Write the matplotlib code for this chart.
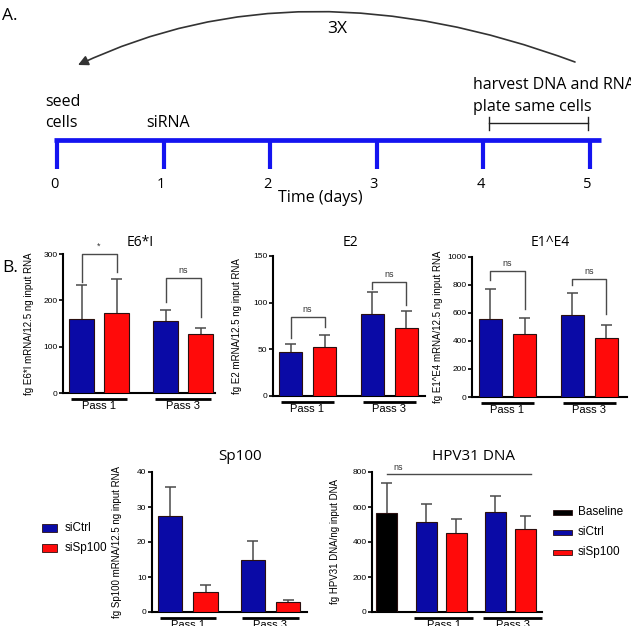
import matplotlib
matplotlib.use('Agg')
import matplotlib.pyplot as plt
from matplotlib.patches import Rectangle, FancyArrowPatch
from matplotlib.path import Path
from matplotlib.transforms import blended_transform_factory
import numpy as np

W, H = 631, 626

# ---------------- data ----------------
days = [0, 1, 2, 3, 4, 5]
groups = ['Pass 1', 'Pass 3']
series = ['siCtrl', 'siSp100']
hpv_series = ['Baseline', 'siCtrl', 'siSp100']

e6_ctrl = [160, 155]
e6_ctrl_err = [73, 24]
e6_si = [173, 127]
e6_si_err = [73, 13]
e6_brackets = [('*', 300, 240, 261), ('ns', 248, 196, 164)]

e2_ctrl = [47, 88]
e2_ctrl_err = [9, 23]
e2_si = [53, 73]
e2_si_err = [12, 18]
e2_brackets = [('ns', 85, 62, 74), ('ns', 122, 115, 98)]

e14_ctrl = [557, 586]
e14_ctrl_err = [214, 157]
e14_si = [450, 421]
e14_si_err = [114, 93]
e14_brackets = [('ns', 900, 836, 629), ('ns', 843, 800, 593)]

sp_ctrl = [27.3, 14.8]
sp_ctrl_err = [8.4, 5.6]
sp_si = [5.7, 3.0]
sp_si_err = [2.0, 0.4]

hpv_base = [566]
hpv_base_err = [171]
hpv_ctrl = [514, 571]
hpv_ctrl_err = [103, 92]
hpv_si = [451, 474]
hpv_si_err = [80, 75]
hpv_ns_level = 789

# ---------------- style ----------------
BLUE = '#0a0aa6'
RED = '#ff0a0a'
BLACK = '#000000'
EDGE = '#2a1010'
GREY = '#4a4a4a'
TL_BLUE = '#1414f0'
SANS = ['Liberation Sans', 'DejaVu Sans']
HUM = ['Open Sans', 'DejaVu Sans']
AFS = 11.5  # panel A text size

fig = plt.figure(figsize=(W / 100, H / 100), dpi=100)
fig.patch.set_facecolor('white')


def ftext(x, y, s, **kw):
    return fig.text(x / W, 1 - y / H, s, **kw)


def make_axes(box):
    x0, x1, yt, yb = box
    ax = fig.add_axes([x0 / W, 1 - yb / H, (x1 - x0) / W, (yb - yt) / H])
    ax.set_facecolor('none')
    for s in ['top', 'right']:
        ax.spines[s].set_visible(False)
    for s in ['left', 'bottom']:
        ax.spines[s].set_linewidth(1.5)
    ax.tick_params(axis='x', length=0, labelbottom=False)
    ax.tick_params(axis='y', length=3, width=1.2, direction='out', pad=1,
                   labelsize=6)
    return ax


def style_ticks(ax):
    for lab in ax.get_yticklabels():
        lab.set_fontfamily(SANS)


def draw_bars(ax, xs, vals, errs, color, width, unit):
    xs = np.asarray(xs, dtype=float)
    vals = np.asarray(vals, dtype=float)
    errs = np.asarray(errs, dtype=float)
    ax.bar(xs, vals, width=width, color=color, edgecolor=EDGE, linewidth=0.8,
           zorder=3)
    cap = 5.5 / unit
    ax.vlines(xs, vals, vals + errs, color=GREY, lw=1.1, zorder=2)
    ax.hlines(vals + errs, xs - cap, xs + cap, color=GREY, lw=1.1, zorder=2)


def group_lines(ax, box, spans, labels):
    x0, x1, yt, yb = box
    hpx = yb - yt
    tr = blended_transform_factory(ax.transData, ax.transAxes)
    for (a, b), lab in zip(spans, labels):
        ax.plot([a, b], [-6 / hpx, -6 / hpx], color='black', lw=2,
                transform=tr, clip_on=False, solid_capstyle='butt')
        ax.text((a + b) / 2, -8 / hpx, lab, transform=tr, ha='center',
                va='top', fontsize=8, family=SANS)


def draw_brackets(ax, xl_list, xr_list, brackets, fs=6.5):
    for xl, xr, (lab, top, lb, rb) in zip(xl_list, xr_list, brackets):
        ax.plot([xl, xl, xr, xr], [lb, top, top, rb], color=GREY, lw=1.0,
                clip_on=False, zorder=4)
        ax.annotate(lab, ((xl + xr) / 2, top), xytext=(0, 2),
                    textcoords='offset points', ha='center', va='bottom',
                    fontsize=fs, family=SANS, color='#333333',
                    annotation_clip=False)


def two_group_panel(box, off, unit, gap, barw, ylim, yticks, ctrl, ctrl_err,
                    si, si_err, title, title_xy, ylabel, ylabel_x, brackets,
                    title_fs=10):
    x0, x1, yt, yb = box
    ax = make_axes(box)
    width_units = (x1 - x0) / unit
    ax.set_xlim(-off / unit, -off / unit + width_units)
    ax.set_ylim(*ylim)
    ax.set_yticks(yticks)
    g = np.arange(len(groups)) * gap
    xc = g
    xs = g + 1
    draw_bars(ax, xc, ctrl, ctrl_err, BLUE, barw, unit)
    draw_bars(ax, xs, si, si_err, RED, barw, unit)
    style_ticks(ax)
    spans = [(c - barw / 2 + 0.05, s + barw / 2 - 0.05) for c, s in zip(xc, xs)]
    group_lines(ax, box, spans, groups)
    if brackets:
        draw_brackets(ax, xc, xs, brackets)
    ftext(title_xy[0], title_xy[1], title, ha='center', va='center',
          fontsize=title_fs, family=HUM)
    ax.set_ylabel(ylabel, fontsize=7, family=SANS, labelpad=0)
    ax.yaxis.set_label_coords((ylabel_x - x0) / (x1 - x0), 0.5)
    return ax


# ---------------- panel A: timeline ----------------
ov = fig.add_axes([0, 0, 1, 1])
ov.set_xlim(0, W)
ov.set_ylim(H, 0)
ov.axis('off')
ov.patch.set_alpha(0)

day_x0, day_step = 57, 106.6
line_y = 140
ov.plot([54, 601], [line_y, line_y], color=TL_BLUE, lw=3.4,
        solid_capstyle='butt')
for d in days:
    x = day_x0 + d * day_step
    ov.plot([x, x], [line_y, 169], color=TL_BLUE, lw=3.0,
            solid_capstyle='butt')
    ov.text(x - 3, 185, str(d), ha='center', va='center', fontsize=10.5,
            family=HUM)
ov.text(320, 198, 'Time (days)', ha='center', va='center', fontsize=AFS,
        family=HUM)
ov.text(45, 102, 'seed', ha='left', va='center', fontsize=AFS, family=HUM)
ov.text(45, 123, 'cells', ha='left', va='center', fontsize=AFS, family=HUM)
ov.text(146, 123, 'siRNA', ha='left', va='center', fontsize=AFS, family=HUM)
ov.text(473, 85, 'harvest DNA and RNA', ha='left', va='center',
        fontsize=AFS, family=HUM)
ov.text(473, 107, 'plate same cells', ha='left', va='center', fontsize=AFS,
        family=HUM)
ov.plot([489, 588], [123, 123], color='#222222', lw=1)
ov.plot([489, 489], [117, 130], color='#222222', lw=1)
ov.plot([588, 588], [117, 130], color='#222222', lw=1)

arc = Path([(575, 62), (300, -40), (78, 65)],
           [Path.MOVETO, Path.CURVE3, Path.CURVE3])
ov.add_patch(FancyArrowPatch(path=arc, arrowstyle='-|>,head_length=6,head_width=3',
                             color='#333333', lw=1.2))
ov.text(337, 29, '3X', ha='center', va='center', fontsize=12.5, family=HUM)
ov.text(2, 16, 'A.', ha='left', va='center', fontsize=12.5, family=HUM)
ov.text(2, 268, 'B.', ha='left', va='center', fontsize=12.5, family=HUM)

# ---------------- panel B: bar charts ----------------
two_group_panel((63, 215, 254, 393), 18.5, 35, 2.4, 0.69, (0, 300),
                [0, 100, 200, 300], e6_ctrl, e6_ctrl_err, e6_si, e6_si_err,
                'E6*I', (140, 243), 'fg E6*I mRNA/12.5 ng input RNA', 34,
                e6_brackets)
two_group_panel((273, 425, 256, 396), 17.5, 34, 2.41, 0.68, (0, 150),
                [0, 50, 100, 150], e2_ctrl, e2_ctrl_err, e2_si, e2_si_err,
                'E2', (350, 242), 'fg E2 mRNA/12.5 ng input RNA', 242,
                e2_brackets)
two_group_panel((472, 627, 257, 397), 18.5, 34, 2.41, 0.68, (0, 1000),
                [0, 200, 400, 600, 800, 1000], e14_ctrl, e14_ctrl_err, e14_si,
                e14_si_err, 'E1^E4', (550, 242),
                'fg E1^E4 mRNA/12.5 ng input RNA', 443, e14_brackets)
two_group_panel((152, 307, 472, 612), 18, 35.5, 2.33, 0.68, (0, 40),
                [0, 10, 20, 30, 40], sp_ctrl, sp_ctrl_err, sp_si, sp_si_err,
                'Sp100', (240, 456), 'fg Sp100 mRNA/12.5 ng input RNA', 122,
                None, title_fs=11)

# HPV31 DNA panel
box = (372, 542, 472, 612)
x0, x1, yt, yb = box
ax = make_axes(box)
unit = 30
ax.set_xlim(-14.5 / unit, -14.5 / unit + (x1 - x0) / unit)
ax.set_ylim(0, 800)
ax.set_yticks([0, 200, 400, 600, 800])
bw = 0.7
xb = np.array([0.0])
xc = np.array([1.33, 3.63])
xs = xc + 1
draw_bars(ax, xb, hpv_base, hpv_base_err, BLACK, bw, unit)
draw_bars(ax, xc, hpv_ctrl, hpv_ctrl_err, BLUE, bw, unit)
draw_bars(ax, xs, hpv_si, hpv_si_err, RED, bw, unit)
style_ticks(ax)
group_lines(ax, box, [(c - bw / 2 - 0.05, s + bw / 2 + 0.2) for c, s in zip(xc, xs)],
            groups)
ax.plot([xb[0], xs[-1] + 0.18], [hpv_ns_level, hpv_ns_level], color=GREY,
        lw=1.0, clip_on=False)
ax.annotate('ns', (xb[0] + 0.4, hpv_ns_level), xytext=(0, 1.5),
            textcoords='offset points', ha='center', va='bottom', fontsize=6.5,
            family=SANS, color='#333333', annotation_clip=False)
ftext(473, 457, 'HPV31 DNA', ha='center', va='center', fontsize=11, family=HUM)
ax.set_ylabel('fg HPV31 DNA/ng input DNA', fontsize=7, family=SANS, labelpad=0)
ax.yaxis.set_label_coords((340 - x0) / (x1 - x0), 0.5)

# ---------------- legends ----------------
for i, (name, col) in enumerate(zip(series, [BLUE, RED])):
    yc = 528 + 20 * i
    ov.add_patch(Rectangle((42, yc - 4), 15, 8, facecolor=col, edgecolor=EDGE,
                           lw=0.6))
    ov.text(65, yc, name, ha='left', va='center', fontsize=8.5, family=SANS)

for i, (name, col) in enumerate(zip(hpv_series, [BLACK, BLUE, RED])):
    yc = 512 + 20 * i
    ov.add_patch(Rectangle((553, yc - 2.5), 19, 5, facecolor=col,
                           edgecolor=EDGE, lw=0.6))
    ov.text(578, yc, name, ha='left', va='center', fontsize=8.5, family=SANS)

fig.savefig('out.png', dpi=100)
